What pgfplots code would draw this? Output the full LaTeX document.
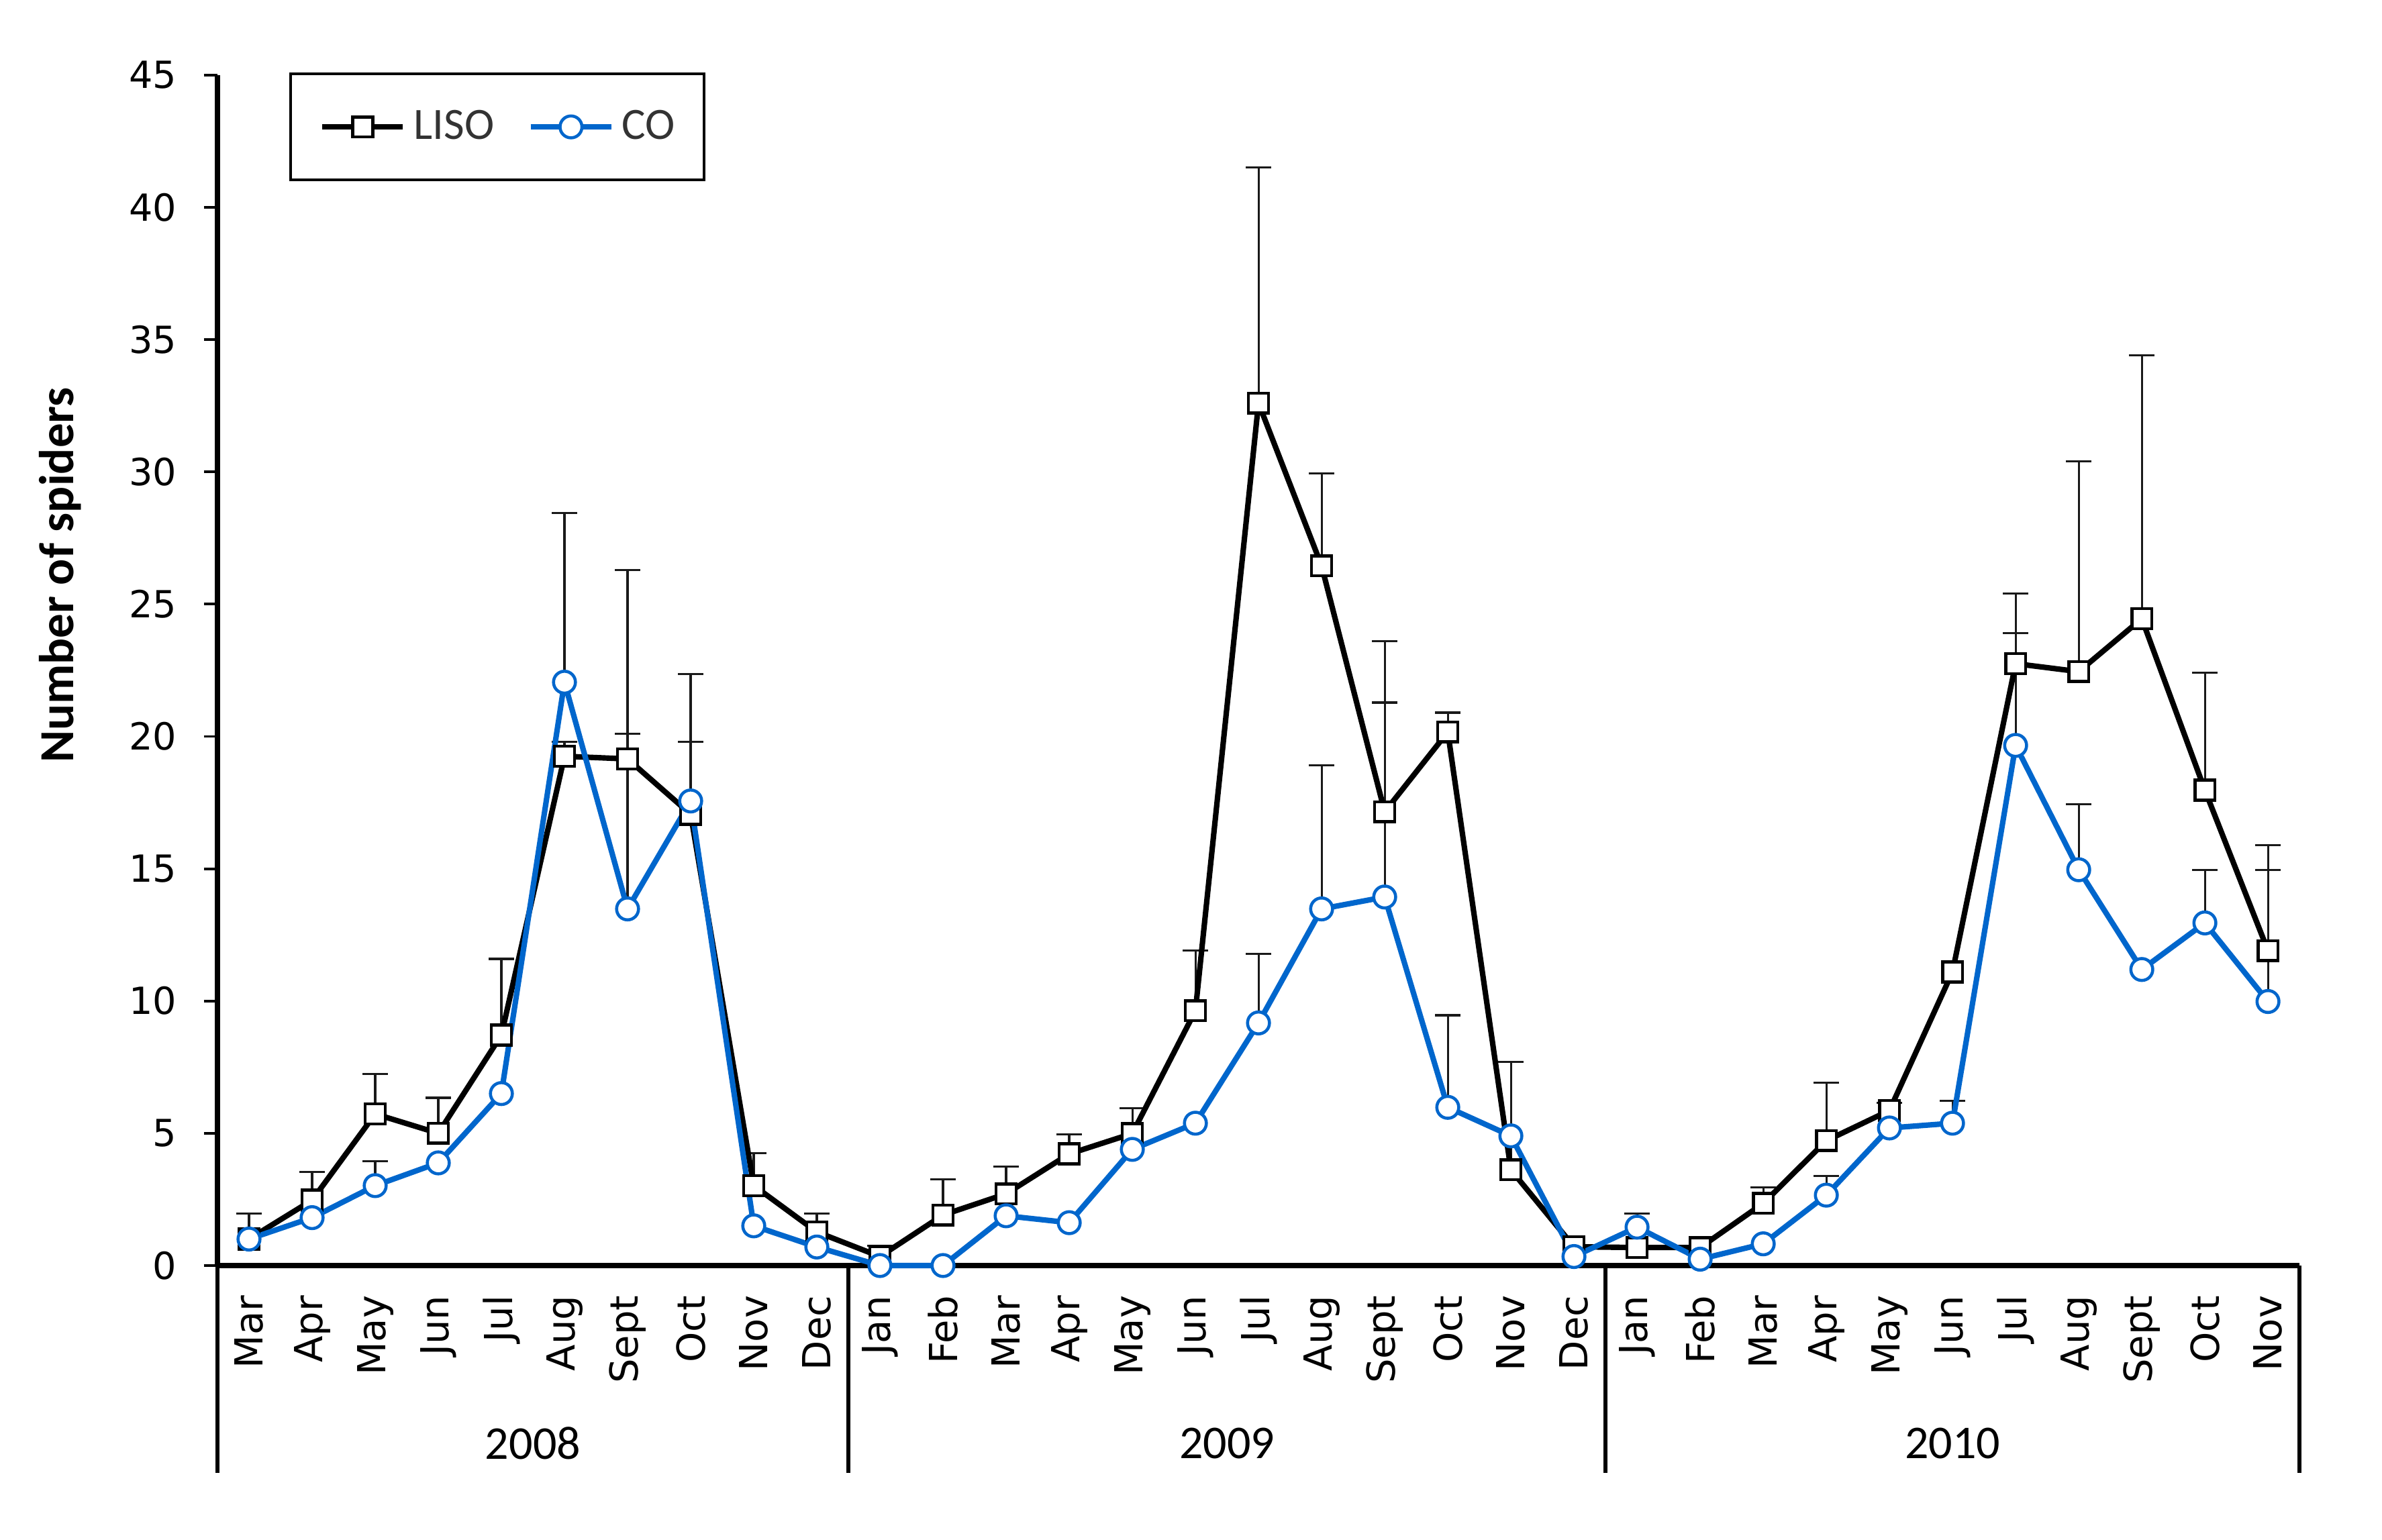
\documentclass[border=0pt]{standalone}
\usepackage{fontspec}
\setmainfont{Carlito}
\newfontfamily\dejavu{DejaVu Sans}
\usepackage{pgfplots}
\usepackage{pgfplotstable}
\pgfplotsset{compat=1.18}
\definecolor{coblue}{RGB}{0,102,204}

\pgfplotstableread{
x y
0 1.00
1 2.47
2 5.73
3 5.00
4 8.71
5 19.25
6 19.15
7 17.06
8 3.02
9 1.27
10 0.34
11 1.91
12 2.71
13 4.22
14 4.99
15 9.63
16 32.60
17 26.45
18 17.15
19 20.17
20 3.62
21 0.71
22 0.68
23 0.68
24 2.35
25 4.72
26 5.86
27 11.10
28 22.75
29 22.45
30 24.45
31 17.97
32 11.90
}\lisodata

\pgfplotstableread{
x y
0 1.00
1 1.81
2 3.02
3 3.88
4 6.50
5 22.05
6 13.48
7 17.56
8 1.50
9 0.70
10 0.00
11 0.00
12 1.88
13 1.62
14 4.39
15 5.38
16 9.17
17 13.48
18 13.93
19 5.98
20 4.90
21 0.34
22 1.45
23 0.24
24 0.82
25 2.66
26 5.20
27 5.38
28 19.66
29 14.96
30 11.19
31 12.95
32 9.98
}\codata

\pgfplotstableread{
x y e
0 1.00 0.97
1 2.47 1.07
2 5.73 1.51
3 5.00 1.34
4 8.71 2.88
5 19.25 0.55
6 19.15 7.15
7 17.06 5.29
8 3.02 1.23
9 1.27 0.70
10 0.34 0.40
11 1.91 1.34
12 2.71 1.02
13 4.22 0.74
14 4.99 0.96
15 9.63 2.27
16 32.60 8.90
17 26.45 3.50
18 17.15 6.45
19 20.17 0.73
20 3.62 4.08
24 2.35 0.60
25 4.72 2.18
26 5.86 0.30
28 22.75 2.65
29 22.45 7.95
30 24.45 9.95
31 17.97 4.43
32 11.90 4.00
}\lisoerr

\pgfplotstableread{
x y e
2 3.02 0.92
5 22.05 6.40
6 13.48 6.62
7 17.56 2.24
16 9.17 2.60
17 13.48 5.42
18 13.93 7.35
19 5.98 3.48
22 1.45 0.52
25 2.66 0.73
27 5.38 0.84
28 19.66 4.24
29 14.96 2.47
31 12.95 2.01
32 9.98 4.98
}\coerr

\begin{document}
\begin{tikzpicture}
\useasboundingbox (-67.5pt,-85.2pt) rectangle (671.85pt,392.9pt);
\begin{axis}[
  at={(0,0)}, anchor=south west,
  scale only axis, width=646.25pt, height=369.6pt,
  clip=false,
  xmin=-0.5, xmax=32.5, ymin=0, ymax=45,
  axis x line*=bottom, axis y line*=left,
  axis line style={line width=1.7pt, black},
  ytick={0,5,...,45},
  ytick align=outside, major tick length=4.2pt,
  ytick style={line width=0.8pt, black},
  yticklabel style={font=\dejavu\fontsize{11.6}{13}\selectfont},
  yticklabel shift=5pt,
  /pgf/number format/assume math mode=true,
  xtick={0,...,32},
  xticklabels={Mar,Apr,May,Jun,Jul,Aug,Sept,Oct,Nov,Dec,Jan,Feb,Mar,Apr,May,Jun,Jul,Aug,Sept,Oct,Nov,Dec,Jan,Feb,Mar,Apr,May,Jun,Jul,Aug,Sept,Oct,Nov},
  xtick style={draw=none},
  xticklabel style={rotate=90, anchor=east, font=\dejavu\fontsize{12}{14}\selectfont},
  xticklabel shift=5.8pt,
  extra x ticks={-0.5,9.5,21.5,32.5},
  extra x tick labels={},
  extra x tick style={xtick style={draw=black, line width=1.4pt}, major tick length=64.4pt, xtick align=outside},
  ylabel={Number of spiders},
  ylabel style={font=\bfseries\fontsize{15.2}{18}\selectfont, at={(axis description cs:-0.0754,0.58)}, anchor=center},
  legend columns=2,
  legend style={at={(axis description cs:0.0345,1.0022)}, anchor=north west, draw=black, line width=0.9pt,
    font=\fontsize{13.9}{16}\selectfont, text=black!80, inner xsep=9pt, inner ysep=11.2pt,
    nodes={inner sep=0pt},
    /tikz/every odd column/.append style={column sep=2.5pt},
    /tikz/every even column/.append style={column sep=10.5pt}},
  legend image code/.code={\draw[mark repeat=2,mark phase=2] plot coordinates {(0pt,0pt) (12.5pt,0pt) (25pt,0pt)};},
]
\addplot[only marks, mark=none, forget plot, error bars/.cd, y dir=plus, y explicit,
  error bar style={line width=0.65pt, black!90},
  error mark options={rotate=90, mark size=3.9pt, line width=0.65pt, black!90}]
  table[x=x, y=y, y error=e] {\lisoerr};
\addplot[only marks, mark=none, forget plot, error bars/.cd, y dir=plus, y explicit,
  error bar style={line width=0.65pt, black!90},
  error mark options={rotate=90, mark size=3.9pt, line width=0.65pt, black!90}]
  table[x=x, y=y, y error=e] {\coerr};
\addplot[black, line width=1.7pt, mark=square*, mark size=3.1pt,
  mark options={fill=white, draw=black, line width=0.95pt}] table[x=x, y=y] {\lisodata};
\addlegendentry{LISO}
\addplot[coblue, line width=1.7pt, mark=*, mark size=3.4pt,
  mark options={fill=white, draw=coblue, line width=0.95pt}] table[x=x, y=y] {\codata};
\addlegendentry{CO}
\node[font=\fontsize{14.6}{17}\selectfont] at (axis cs:4.5,0) [yshift=-55.2pt] {2008};
\node[font=\fontsize{14.6}{17}\selectfont] at (axis cs:15.5,0) [yshift=-55.2pt] {2009};
\node[font=\fontsize{14.6}{17}\selectfont] at (axis cs:27,0) [yshift=-55.2pt] {2010};
\end{axis}
\end{tikzpicture}
\end{document}
